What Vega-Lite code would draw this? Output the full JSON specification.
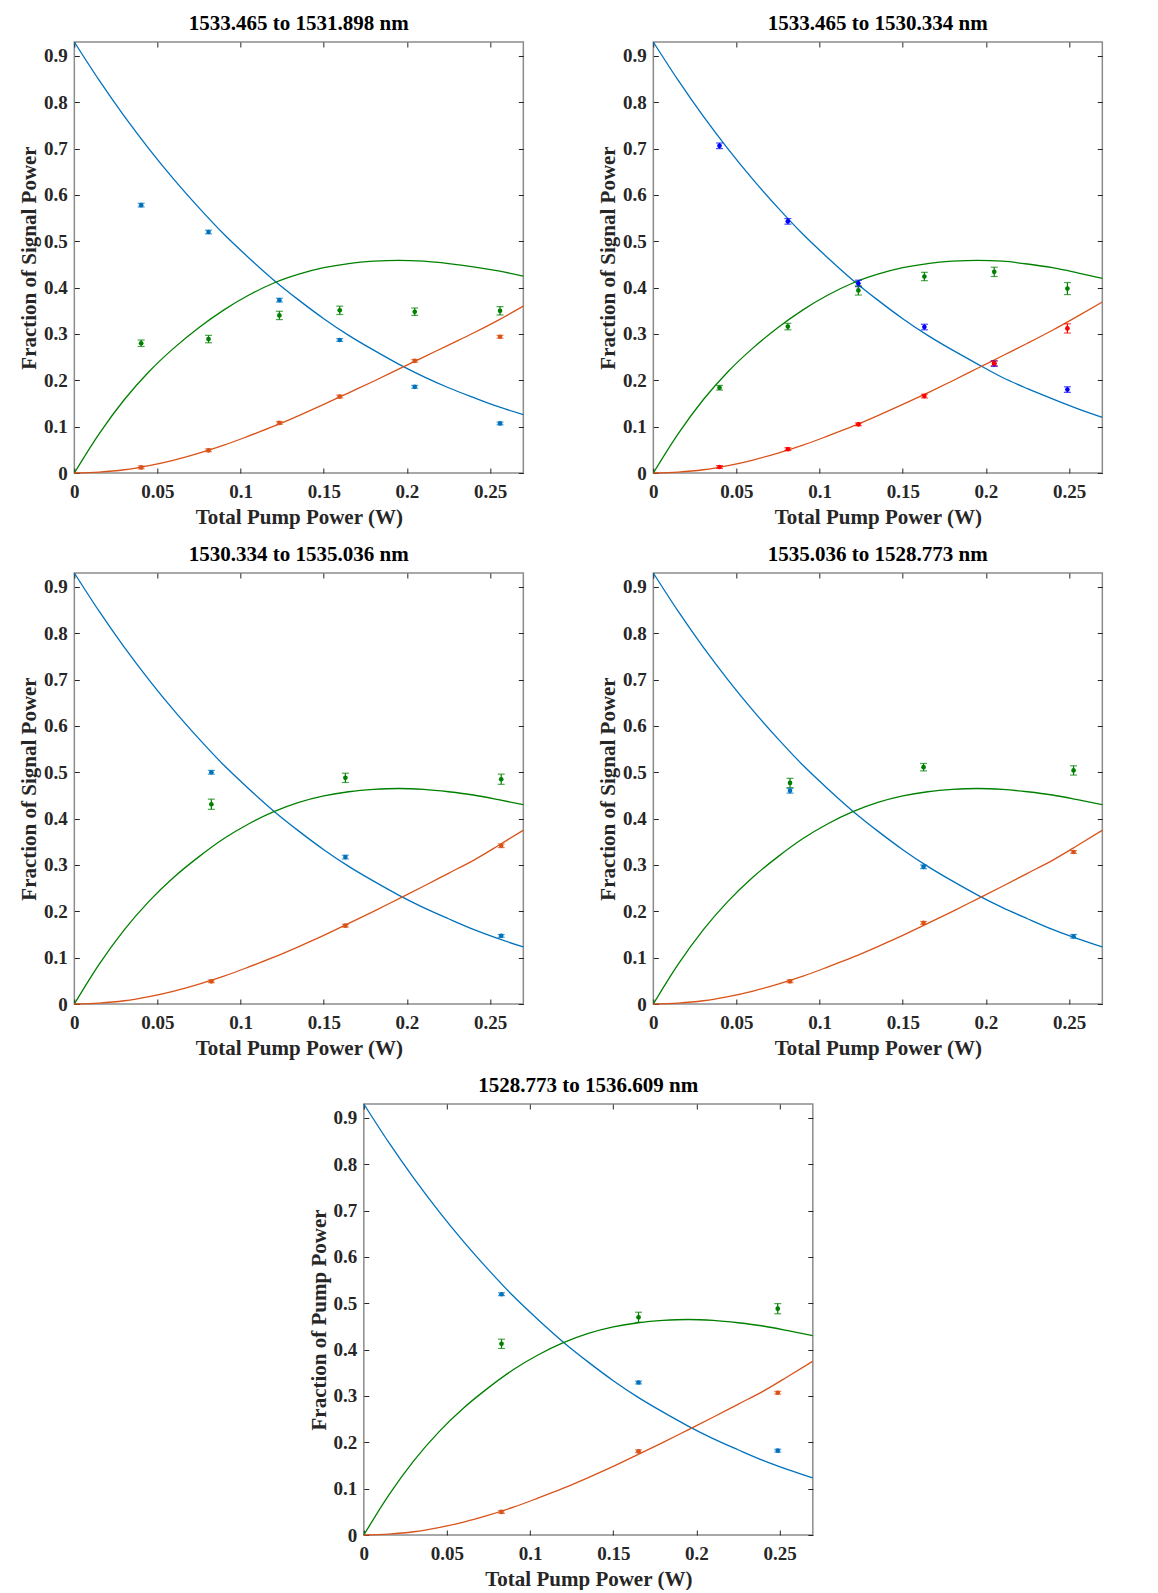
{
  "$schema": "https://vega.github.io/schema/vega-lite/v6.json",
  "padding": {"left": 17, "top": 12, "right": 0, "bottom": 0},
  "datasets": {
    "curves": [
      {"fit": 1, "x": 0, "initial": 0.93, "intermediate": 0, "final": 0},
      {"fit": 1, "x": 0.015, "initial": 0.847, "intermediate": 0.085, "final": 0.002},
      {"fit": 1, "x": 0.03, "initial": 0.77, "intermediate": 0.158, "final": 0.007},
      {"fit": 1, "x": 0.045, "initial": 0.699, "intermediate": 0.219, "final": 0.016},
      {"fit": 1, "x": 0.06, "initial": 0.633, "intermediate": 0.27, "final": 0.028},
      {"fit": 1, "x": 0.075, "initial": 0.572, "intermediate": 0.314, "final": 0.043},
      {"fit": 1, "x": 0.09, "initial": 0.515, "intermediate": 0.352, "final": 0.06},
      {"fit": 1, "x": 0.105, "initial": 0.464, "intermediate": 0.384, "final": 0.08},
      {"fit": 1, "x": 0.12, "initial": 0.416, "intermediate": 0.41, "final": 0.101},
      {"fit": 1, "x": 0.135, "initial": 0.373, "intermediate": 0.429, "final": 0.124},
      {"fit": 1, "x": 0.15, "initial": 0.333, "intermediate": 0.443, "final": 0.148},
      {"fit": 1, "x": 0.165, "initial": 0.297, "intermediate": 0.452, "final": 0.173},
      {"fit": 1, "x": 0.18, "initial": 0.265, "intermediate": 0.457, "final": 0.198},
      {"fit": 1, "x": 0.195, "initial": 0.235, "intermediate": 0.459, "final": 0.224},
      {"fit": 1, "x": 0.21, "initial": 0.208, "intermediate": 0.457, "final": 0.25},
      {"fit": 1, "x": 0.225, "initial": 0.184, "intermediate": 0.452, "final": 0.276},
      {"fit": 1, "x": 0.24, "initial": 0.163, "intermediate": 0.445, "final": 0.302},
      {"fit": 1, "x": 0.255, "initial": 0.143, "intermediate": 0.436, "final": 0.33},
      {"fit": 1, "x": 0.27, "initial": 0.126, "intermediate": 0.425, "final": 0.36},

      {"fit": 2, "x": 0, "initial": 0.93, "intermediate": 0, "final": 0},
      {"fit": 2, "x": 0.015, "initial": 0.847, "intermediate": 0.085, "final": 0.002},
      {"fit": 2, "x": 0.03, "initial": 0.77, "intermediate": 0.158, "final": 0.007},
      {"fit": 2, "x": 0.045, "initial": 0.699, "intermediate": 0.219, "final": 0.016},
      {"fit": 2, "x": 0.06, "initial": 0.633, "intermediate": 0.27, "final": 0.028},
      {"fit": 2, "x": 0.075, "initial": 0.572, "intermediate": 0.314, "final": 0.043},
      {"fit": 2, "x": 0.09, "initial": 0.515, "intermediate": 0.352, "final": 0.06},
      {"fit": 2, "x": 0.105, "initial": 0.464, "intermediate": 0.384, "final": 0.08},
      {"fit": 2, "x": 0.12, "initial": 0.416, "intermediate": 0.41, "final": 0.101},
      {"fit": 2, "x": 0.135, "initial": 0.373, "intermediate": 0.429, "final": 0.124},
      {"fit": 2, "x": 0.15, "initial": 0.333, "intermediate": 0.443, "final": 0.148},
      {"fit": 2, "x": 0.165, "initial": 0.297, "intermediate": 0.452, "final": 0.173},
      {"fit": 2, "x": 0.18, "initial": 0.265, "intermediate": 0.457, "final": 0.199},
      {"fit": 2, "x": 0.195, "initial": 0.235, "intermediate": 0.459, "final": 0.226},
      {"fit": 2, "x": 0.21, "initial": 0.206, "intermediate": 0.457, "final": 0.253},
      {"fit": 2, "x": 0.225, "initial": 0.182, "intermediate": 0.451, "final": 0.28},
      {"fit": 2, "x": 0.24, "initial": 0.16, "intermediate": 0.443, "final": 0.308},
      {"fit": 2, "x": 0.255, "initial": 0.139, "intermediate": 0.432, "final": 0.338},
      {"fit": 2, "x": 0.27, "initial": 0.12, "intermediate": 0.42, "final": 0.369},

      {"fit": 3, "x": 0, "initial": 0.93, "intermediate": 0, "final": 0},
      {"fit": 3, "x": 0.015, "initial": 0.847, "intermediate": 0.086, "final": 0.002},
      {"fit": 3, "x": 0.03, "initial": 0.77, "intermediate": 0.16, "final": 0.007},
      {"fit": 3, "x": 0.045, "initial": 0.699, "intermediate": 0.222, "final": 0.016},
      {"fit": 3, "x": 0.06, "initial": 0.633, "intermediate": 0.274, "final": 0.028},
      {"fit": 3, "x": 0.075, "initial": 0.572, "intermediate": 0.318, "final": 0.043},
      {"fit": 3, "x": 0.09, "initial": 0.515, "intermediate": 0.357, "final": 0.06},
      {"fit": 3, "x": 0.105, "initial": 0.464, "intermediate": 0.389, "final": 0.08},
      {"fit": 3, "x": 0.12, "initial": 0.416, "intermediate": 0.415, "final": 0.101},
      {"fit": 3, "x": 0.135, "initial": 0.373, "intermediate": 0.435, "final": 0.124},
      {"fit": 3, "x": 0.15, "initial": 0.333, "intermediate": 0.449, "final": 0.148},
      {"fit": 3, "x": 0.165, "initial": 0.297, "intermediate": 0.458, "final": 0.174},
      {"fit": 3, "x": 0.18, "initial": 0.265, "intermediate": 0.463, "final": 0.2},
      {"fit": 3, "x": 0.195, "initial": 0.235, "intermediate": 0.465, "final": 0.227},
      {"fit": 3, "x": 0.21, "initial": 0.208, "intermediate": 0.463, "final": 0.254},
      {"fit": 3, "x": 0.225, "initial": 0.184, "intermediate": 0.458, "final": 0.282},
      {"fit": 3, "x": 0.24, "initial": 0.161, "intermediate": 0.451, "final": 0.31},
      {"fit": 3, "x": 0.255, "initial": 0.141, "intermediate": 0.441, "final": 0.342},
      {"fit": 3, "x": 0.27, "initial": 0.123, "intermediate": 0.43, "final": 0.375}
    ],
    "points": [
      {"p": 1, "s": "initial", "x": 0.0402, "y": 0.578, "e": 0.004},
      {"p": 1, "s": "initial", "x": 0.0807, "y": 0.52, "e": 0.004},
      {"p": 1, "s": "initial", "x": 0.1233, "y": 0.373, "e": 0.004},
      {"p": 1, "s": "initial", "x": 0.1596, "y": 0.287, "e": 0.003},
      {"p": 1, "s": "initial", "x": 0.2047, "y": 0.186, "e": 0.003},
      {"p": 1, "s": "initial", "x": 0.256, "y": 0.107, "e": 0.003},
      {"p": 1, "s": "intermediate", "x": 0.0402, "y": 0.28, "e": 0.007},
      {"p": 1, "s": "intermediate", "x": 0.0807, "y": 0.289, "e": 0.008},
      {"p": 1, "s": "intermediate", "x": 0.1233, "y": 0.34, "e": 0.009},
      {"p": 1, "s": "intermediate", "x": 0.1596, "y": 0.351, "e": 0.009},
      {"p": 1, "s": "intermediate", "x": 0.2047, "y": 0.348, "e": 0.008},
      {"p": 1, "s": "intermediate", "x": 0.256, "y": 0.35, "e": 0.009},
      {"p": 1, "s": "final", "x": 0.0402, "y": 0.012, "e": 0.003},
      {"p": 1, "s": "final", "x": 0.0807, "y": 0.049, "e": 0.003},
      {"p": 1, "s": "final", "x": 0.1233, "y": 0.108, "e": 0.003},
      {"p": 1, "s": "final", "x": 0.1596, "y": 0.165, "e": 0.003},
      {"p": 1, "s": "final", "x": 0.2047, "y": 0.242, "e": 0.003},
      {"p": 1, "s": "final", "x": 0.256, "y": 0.294, "e": 0.003},

      {"p": 2, "s": "initial", "x": 0.0398, "y": 0.706, "e": 0.006},
      {"p": 2, "s": "initial", "x": 0.0809, "y": 0.543, "e": 0.006},
      {"p": 2, "s": "initial", "x": 0.1233, "y": 0.409, "e": 0.007},
      {"p": 2, "s": "initial", "x": 0.163, "y": 0.315, "e": 0.006},
      {"p": 2, "s": "initial", "x": 0.205, "y": 0.236, "e": 0.006},
      {"p": 2, "s": "initial", "x": 0.249, "y": 0.18, "e": 0.006},
      {"p": 2, "s": "intermediate", "x": 0.0398, "y": 0.184, "e": 0.005},
      {"p": 2, "s": "intermediate", "x": 0.0809, "y": 0.316, "e": 0.007},
      {"p": 2, "s": "intermediate", "x": 0.1233, "y": 0.394, "e": 0.01},
      {"p": 2, "s": "intermediate", "x": 0.163, "y": 0.424, "e": 0.009},
      {"p": 2, "s": "intermediate", "x": 0.205, "y": 0.434, "e": 0.01},
      {"p": 2, "s": "intermediate", "x": 0.249, "y": 0.398, "e": 0.013},
      {"p": 2, "s": "final", "x": 0.0398, "y": 0.013, "e": 0.003},
      {"p": 2, "s": "final", "x": 0.0809, "y": 0.0515, "e": 0.003},
      {"p": 2, "s": "final", "x": 0.1233, "y": 0.105, "e": 0.003},
      {"p": 2, "s": "final", "x": 0.163, "y": 0.166, "e": 0.004},
      {"p": 2, "s": "final", "x": 0.205, "y": 0.2366, "e": 0.005},
      {"p": 2, "s": "final", "x": 0.249, "y": 0.312, "e": 0.01},

      {"p": 3, "s": "initial", "x": 0.0824, "y": 0.5, "e": 0.004},
      {"p": 3, "s": "initial", "x": 0.163, "y": 0.317, "e": 0.004},
      {"p": 3, "s": "initial", "x": 0.2567, "y": 0.147, "e": 0.003},
      {"p": 3, "s": "intermediate", "x": 0.0824, "y": 0.431, "e": 0.011},
      {"p": 3, "s": "intermediate", "x": 0.163, "y": 0.488, "e": 0.01},
      {"p": 3, "s": "intermediate", "x": 0.2567, "y": 0.485, "e": 0.011},
      {"p": 3, "s": "final", "x": 0.0824, "y": 0.049, "e": 0.003},
      {"p": 3, "s": "final", "x": 0.163, "y": 0.169, "e": 0.003},
      {"p": 3, "s": "final", "x": 0.2567, "y": 0.3415, "e": 0.004},

      {"p": 4, "s": "initial", "x": 0.0822, "y": 0.46, "e": 0.005},
      {"p": 4, "s": "initial", "x": 0.1625, "y": 0.296, "e": 0.004},
      {"p": 4, "s": "initial", "x": 0.2527, "y": 0.146, "e": 0.004},
      {"p": 4, "s": "intermediate", "x": 0.0822, "y": 0.477, "e": 0.01},
      {"p": 4, "s": "intermediate", "x": 0.1625, "y": 0.511, "e": 0.008},
      {"p": 4, "s": "intermediate", "x": 0.2527, "y": 0.504, "e": 0.01},
      {"p": 4, "s": "final", "x": 0.0822, "y": 0.049, "e": 0.003},
      {"p": 4, "s": "final", "x": 0.1625, "y": 0.175, "e": 0.003},
      {"p": 4, "s": "final", "x": 0.2527, "y": 0.328, "e": 0.003},

      {"p": 5, "s": "initial", "x": 0.0828, "y": 0.5195, "e": 0.003},
      {"p": 5, "s": "initial", "x": 0.1652, "y": 0.329, "e": 0.003},
      {"p": 5, "s": "initial", "x": 0.2489, "y": 0.182, "e": 0.003},
      {"p": 5, "s": "intermediate", "x": 0.0828, "y": 0.4125, "e": 0.01},
      {"p": 5, "s": "intermediate", "x": 0.1652, "y": 0.4697, "e": 0.011},
      {"p": 5, "s": "intermediate", "x": 0.2489, "y": 0.4883, "e": 0.011},
      {"p": 5, "s": "final", "x": 0.0828, "y": 0.0498, "e": 0.003},
      {"p": 5, "s": "final", "x": 0.1652, "y": 0.1806, "e": 0.003},
      {"p": 5, "s": "final", "x": 0.2489, "y": 0.307, "e": 0.003}
    ]
  },
  "vconcat": [
    {
      "hconcat": [
        {
          "title": "1533.465 to 1531.898 nm",
          "width": 449,
          "height": 431,
          "resolve": {"axis": {"x": "independent", "y": "independent"}},
          "layer": [
            {
              "data": {"name": "curves"},
              "transform": [{"filter": "datum.fit == 1"}, {"fold": ["initial", "intermediate", "final"], "as": ["s", "v"]}],
              "mark": {"type": "line", "strokeWidth": 1.3, "interpolate": "monotone"},
              "encoding": {
                "x": {"field": "x", "type": "quantitative", "scale": {"domain": [0, 0.27], "nice": false}, "axis": {"title": "Total Pump Power (W)", "values": [0, 0.05, 0.1, 0.15, 0.2, 0.25], "format": "~g"}},
                "y": {"field": "v", "type": "quantitative", "scale": {"domain": [0, 0.93], "nice": false}, "axis": {"title": "Fraction of Signal Power", "values": [0, 0.1, 0.2, 0.3, 0.4, 0.5, 0.6, 0.7, 0.8, 0.9], "format": "~g"}},
                "color": {"field": "s", "type": "nominal", "scale": {"domain": ["initial", "intermediate", "final"], "range": ["#0072BD", "#008000", "#D95319"]}, "legend": null}
              }
            },
            {
              "data": {"name": "points"},
              "transform": [{"filter": "datum.p == 1"}],
              "mark": {"type": "errorbar", "ticks": {"size": 7}, "thickness": 1.2},
              "encoding": {
                "x": {"field": "x", "type": "quantitative", "axis": null},
                "y": {"field": "y", "type": "quantitative", "axis": null},
                "yError": {"field": "e"},
                "color": {"field": "s", "type": "nominal", "legend": null}
              }
            },
            {
              "data": {"name": "points"},
              "transform": [{"filter": "datum.p == 1"}],
              "mark": {"type": "circle", "size": 22, "opacity": 1},
              "encoding": {
                "x": {"field": "x", "type": "quantitative", "axis": null},
                "y": {"field": "y", "type": "quantitative", "axis": null},
                "color": {"field": "s", "type": "nominal", "legend": null}
              }
            },
            {
              "data": {"name": "points"},
              "transform": [{"filter": "datum.p == 1"}],
              "mark": {"type": "point", "opacity": 0},
              "encoding": {
                "x": {"field": "x", "type": "quantitative", "axis": {"orient": "top", "labels": false, "title": null, "values": [0, 0.05, 0.1, 0.15, 0.2, 0.25]}},
                "y": {"field": "y", "type": "quantitative", "axis": {"orient": "right", "labels": false, "title": null, "values": [0, 0.1, 0.2, 0.3, 0.4, 0.5, 0.6, 0.7, 0.8, 0.9]}}
              }
            }
          ]
        },
        {
          "title": "1533.465 to 1530.334 nm",
          "width": 449,
          "height": 431,
          "resolve": {"axis": {"x": "independent", "y": "independent"}, "scale": {"color": "independent"}},
          "layer": [
            {
              "data": {"name": "curves"},
              "transform": [{"filter": "datum.fit == 2"}, {"fold": ["initial", "intermediate", "final"], "as": ["s", "v"]}],
              "mark": {"type": "line", "strokeWidth": 1.3, "interpolate": "monotone"},
              "encoding": {
                "x": {"field": "x", "type": "quantitative", "scale": {"domain": [0, 0.27], "nice": false}, "axis": {"title": "Total Pump Power (W)", "values": [0, 0.05, 0.1, 0.15, 0.2, 0.25], "format": "~g"}},
                "y": {"field": "v", "type": "quantitative", "scale": {"domain": [0, 0.93], "nice": false}, "axis": {"title": "Fraction of Signal Power", "values": [0, 0.1, 0.2, 0.3, 0.4, 0.5, 0.6, 0.7, 0.8, 0.9], "format": "~g"}},
                "color": {"field": "s", "type": "nominal", "scale": {"domain": ["initial", "intermediate", "final"], "range": ["#0072BD", "#008000", "#D95319"]}, "legend": null}
              }
            },
            {
              "data": {"name": "points"},
              "transform": [{"filter": "datum.p == 2"}],
              "mark": {"type": "errorbar", "ticks": {"size": 7}, "thickness": 1.2},
              "encoding": {
                "x": {"field": "x", "type": "quantitative", "axis": null},
                "y": {"field": "y", "type": "quantitative", "axis": null},
                "yError": {"field": "e"},
                "color": {"field": "s", "type": "nominal", "scale": {"domain": ["initial", "intermediate", "final"], "range": ["#0000FF", "#008000", "#FF0000"]}, "legend": null}
              }
            },
            {
              "data": {"name": "points"},
              "transform": [{"filter": "datum.p == 2"}],
              "mark": {"type": "circle", "size": 22, "opacity": 1},
              "encoding": {
                "x": {"field": "x", "type": "quantitative", "axis": null},
                "y": {"field": "y", "type": "quantitative", "axis": null},
                "color": {"field": "s", "type": "nominal", "scale": {"domain": ["initial", "intermediate", "final"], "range": ["#0000FF", "#008000", "#FF0000"]}, "legend": null}
              }
            },
            {
              "data": {"name": "points"},
              "transform": [{"filter": "datum.p == 2"}],
              "mark": {"type": "point", "opacity": 0},
              "encoding": {
                "x": {"field": "x", "type": "quantitative", "axis": {"orient": "top", "labels": false, "title": null, "values": [0, 0.05, 0.1, 0.15, 0.2, 0.25]}},
                "y": {"field": "y", "type": "quantitative", "axis": {"orient": "right", "labels": false, "title": null, "values": [0, 0.1, 0.2, 0.3, 0.4, 0.5, 0.6, 0.7, 0.8, 0.9]}}
              }
            }
          ]
        }
      ]
    },
    {
      "hconcat": [
        {
          "title": "1530.334 to 1535.036 nm",
          "width": 449,
          "height": 431,
          "resolve": {"axis": {"x": "independent", "y": "independent"}},
          "layer": [
            {
              "data": {"name": "curves"},
              "transform": [{"filter": "datum.fit == 3"}, {"fold": ["initial", "intermediate", "final"], "as": ["s", "v"]}],
              "mark": {"type": "line", "strokeWidth": 1.3, "interpolate": "monotone"},
              "encoding": {
                "x": {"field": "x", "type": "quantitative", "scale": {"domain": [0, 0.27], "nice": false}, "axis": {"title": "Total Pump Power (W)", "values": [0, 0.05, 0.1, 0.15, 0.2, 0.25], "format": "~g"}},
                "y": {"field": "v", "type": "quantitative", "scale": {"domain": [0, 0.93], "nice": false}, "axis": {"title": "Fraction of Signal Power", "values": [0, 0.1, 0.2, 0.3, 0.4, 0.5, 0.6, 0.7, 0.8, 0.9], "format": "~g"}},
                "color": {"field": "s", "type": "nominal", "scale": {"domain": ["initial", "intermediate", "final"], "range": ["#0072BD", "#008000", "#D95319"]}, "legend": null}
              }
            },
            {
              "data": {"name": "points"},
              "transform": [{"filter": "datum.p == 3"}],
              "mark": {"type": "errorbar", "ticks": {"size": 7}, "thickness": 1.2},
              "encoding": {
                "x": {"field": "x", "type": "quantitative", "axis": null},
                "y": {"field": "y", "type": "quantitative", "axis": null},
                "yError": {"field": "e"},
                "color": {"field": "s", "type": "nominal", "legend": null}
              }
            },
            {
              "data": {"name": "points"},
              "transform": [{"filter": "datum.p == 3"}],
              "mark": {"type": "circle", "size": 22, "opacity": 1},
              "encoding": {
                "x": {"field": "x", "type": "quantitative", "axis": null},
                "y": {"field": "y", "type": "quantitative", "axis": null},
                "color": {"field": "s", "type": "nominal", "legend": null}
              }
            },
            {
              "data": {"name": "points"},
              "transform": [{"filter": "datum.p == 3"}],
              "mark": {"type": "point", "opacity": 0},
              "encoding": {
                "x": {"field": "x", "type": "quantitative", "axis": {"orient": "top", "labels": false, "title": null, "values": [0, 0.05, 0.1, 0.15, 0.2, 0.25]}},
                "y": {"field": "y", "type": "quantitative", "axis": {"orient": "right", "labels": false, "title": null, "values": [0, 0.1, 0.2, 0.3, 0.4, 0.5, 0.6, 0.7, 0.8, 0.9]}}
              }
            }
          ]
        },
        {
          "title": "1535.036 to 1528.773 nm",
          "width": 449,
          "height": 431,
          "resolve": {"axis": {"x": "independent", "y": "independent"}},
          "layer": [
            {
              "data": {"name": "curves"},
              "transform": [{"filter": "datum.fit == 3"}, {"fold": ["initial", "intermediate", "final"], "as": ["s", "v"]}],
              "mark": {"type": "line", "strokeWidth": 1.3, "interpolate": "monotone"},
              "encoding": {
                "x": {"field": "x", "type": "quantitative", "scale": {"domain": [0, 0.27], "nice": false}, "axis": {"title": "Total Pump Power (W)", "values": [0, 0.05, 0.1, 0.15, 0.2, 0.25], "format": "~g"}},
                "y": {"field": "v", "type": "quantitative", "scale": {"domain": [0, 0.93], "nice": false}, "axis": {"title": "Fraction of Signal Power", "values": [0, 0.1, 0.2, 0.3, 0.4, 0.5, 0.6, 0.7, 0.8, 0.9], "format": "~g"}},
                "color": {"field": "s", "type": "nominal", "scale": {"domain": ["initial", "intermediate", "final"], "range": ["#0072BD", "#008000", "#D95319"]}, "legend": null}
              }
            },
            {
              "data": {"name": "points"},
              "transform": [{"filter": "datum.p == 4"}],
              "mark": {"type": "errorbar", "ticks": {"size": 7}, "thickness": 1.2},
              "encoding": {
                "x": {"field": "x", "type": "quantitative", "axis": null},
                "y": {"field": "y", "type": "quantitative", "axis": null},
                "yError": {"field": "e"},
                "color": {"field": "s", "type": "nominal", "legend": null}
              }
            },
            {
              "data": {"name": "points"},
              "transform": [{"filter": "datum.p == 4"}],
              "mark": {"type": "circle", "size": 22, "opacity": 1},
              "encoding": {
                "x": {"field": "x", "type": "quantitative", "axis": null},
                "y": {"field": "y", "type": "quantitative", "axis": null},
                "color": {"field": "s", "type": "nominal", "legend": null}
              }
            },
            {
              "data": {"name": "points"},
              "transform": [{"filter": "datum.p == 4"}],
              "mark": {"type": "point", "opacity": 0},
              "encoding": {
                "x": {"field": "x", "type": "quantitative", "axis": {"orient": "top", "labels": false, "title": null, "values": [0, 0.05, 0.1, 0.15, 0.2, 0.25]}},
                "y": {"field": "y", "type": "quantitative", "axis": {"orient": "right", "labels": false, "title": null, "values": [0, 0.1, 0.2, 0.3, 0.4, 0.5, 0.6, 0.7, 0.8, 0.9]}}
              }
            }
          ]
        }
      ]
    },
    {
      "title": "1528.773 to 1536.609 nm",
      "width": 449,
      "height": 431,
      "resolve": {"axis": {"x": "independent", "y": "independent"}},
      "layer": [
        {
          "data": {"name": "curves"},
          "transform": [{"filter": "datum.fit == 3"}, {"fold": ["initial", "intermediate", "final"], "as": ["s", "v"]}],
          "mark": {"type": "line", "strokeWidth": 1.3, "interpolate": "monotone"},
          "encoding": {
            "x": {"field": "x", "type": "quantitative", "scale": {"domain": [0, 0.27], "nice": false}, "axis": {"title": "Total Pump Power (W)", "values": [0, 0.05, 0.1, 0.15, 0.2, 0.25], "format": "~g"}},
            "y": {"field": "v", "type": "quantitative", "scale": {"domain": [0, 0.93], "nice": false}, "axis": {"title": "Fraction of Pump Power", "values": [0, 0.1, 0.2, 0.3, 0.4, 0.5, 0.6, 0.7, 0.8, 0.9], "format": "~g"}},
            "color": {"field": "s", "type": "nominal", "scale": {"domain": ["initial", "intermediate", "final"], "range": ["#0072BD", "#008000", "#D95319"]}, "legend": null}
          }
        },
        {
          "data": {"name": "points"},
          "transform": [{"filter": "datum.p == 5"}],
          "mark": {"type": "errorbar", "ticks": {"size": 7}, "thickness": 1.2},
          "encoding": {
            "x": {"field": "x", "type": "quantitative", "axis": null},
            "y": {"field": "y", "type": "quantitative", "axis": null},
            "yError": {"field": "e"},
            "color": {"field": "s", "type": "nominal", "legend": null}
          }
        },
        {
          "data": {"name": "points"},
          "transform": [{"filter": "datum.p == 5"}],
          "mark": {"type": "circle", "size": 22, "opacity": 1},
          "encoding": {
            "x": {"field": "x", "type": "quantitative", "axis": null},
            "y": {"field": "y", "type": "quantitative", "axis": null},
            "color": {"field": "s", "type": "nominal", "legend": null}
          }
        },
        {
          "data": {"name": "points"},
          "transform": [{"filter": "datum.p == 5"}],
          "mark": {"type": "point", "opacity": 0},
          "encoding": {
            "x": {"field": "x", "type": "quantitative", "axis": {"orient": "top", "labels": false, "title": null, "values": [0, 0.05, 0.1, 0.15, 0.2, 0.25]}},
            "y": {"field": "y", "type": "quantitative", "axis": {"orient": "right", "labels": false, "title": null, "values": [0, 0.1, 0.2, 0.3, 0.4, 0.5, 0.6, 0.7, 0.8, 0.9]}}
          }
        }
      ]
    }
  ],
  "spacing": 15,
  "center": true,
  "config": {
    "font": "Liberation Serif",
    "background": "white",
    "concat": {"spacing": 69},
    "view": {"stroke": "#8c8c8c", "strokeWidth": 1.5},
    "title": {"font": "Liberation Serif", "fontSize": 21, "fontWeight": "bold", "color": "#000000", "offset": 5},
    "axis": {
      "domain": false,
      "grid": false,
      "tickColor": "#262626",
      "tickSize": -5,
      "tickWidth": 1,
      "labelFont": "Liberation Serif",
      "labelFontSize": 19,
      "labelFontWeight": "bold",
      "labelColor": "#262626",
      "labelFlush": false,
      "labelOverlap": false,
      "titleFont": "Liberation Serif",
      "titleFontSize": 21,
      "titleFontWeight": "bold",
      "titleColor": "#262626"
    },
    "axisX": {"labelPadding": 14, "titlePadding": 5},
    "axisY": {"labelPadding": 12, "titlePadding": 4}
  }
}
